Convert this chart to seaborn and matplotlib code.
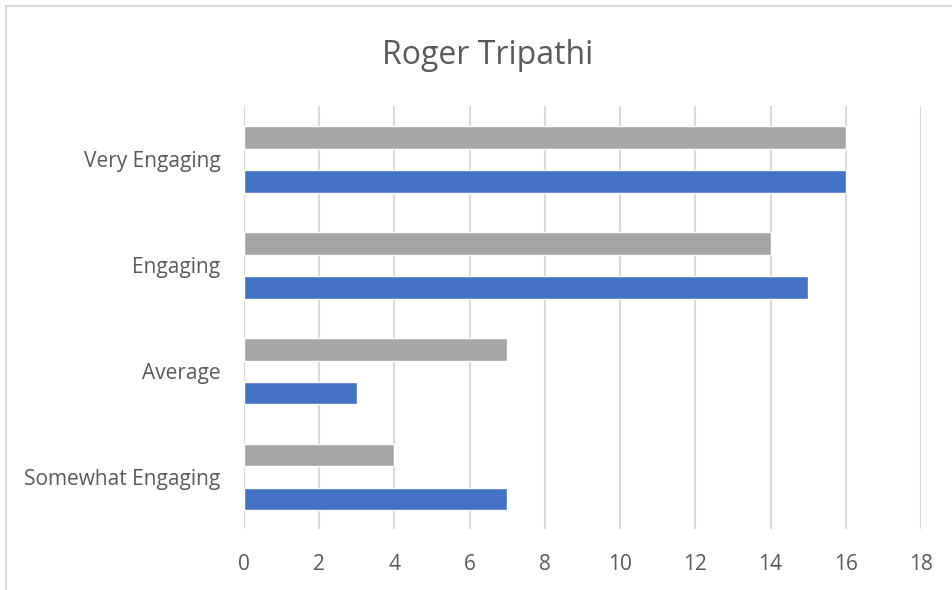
import matplotlib
matplotlib.use("Agg")
import matplotlib.pyplot as plt
import seaborn as sns
import pandas as pd
from matplotlib.patches import Rectangle

categories = ["Very Engaging", "Engaging", "Average", "Somewhat Engaging"]
series_names = ["Series 2", "Series 1"]
gray_values = [16, 14, 7, 4]
blue_values = [16, 15, 3, 7]
x_ticks = [0, 2, 4, 6, 8, 10, 12, 14, 16, 18]
title = "Roger Tripathi"

df = pd.DataFrame({
    "category": categories * 2,
    "series": [series_names[0]] * len(categories) + [series_names[1]] * len(categories),
    "value": gray_values + blue_values,
})

sns.set_theme(style="white")
plt.rcParams["font.family"] = ["Open Sans", "DejaVu Sans"]

text_color = "#595959"
fig = plt.figure(figsize=(9.53, 5.90), dpi=100)
ax = fig.add_axes([244 / 953, 1 - 529 / 590, (921 - 244) / 953, (529 - 106) / 590])

sns.barplot(data=df, y="category", x="value", hue="series", order=categories,
            hue_order=series_names, palette=["#A5A5A5", "#4472C4"], saturation=1,
            width=0.83, gap=0.484, orient="h", legend=False, ax=ax, zorder=3)

ax.set_xlim(0, 18)
ax.set_ylim(3.49, -0.503)
ax.set_xticks(x_ticks)
ax.set_xticklabels([str(t) for t in x_ticks])
ax.xaxis.grid(True, color="#D9D9D9", linewidth=1.5, zorder=0)
ax.yaxis.grid(False)
ax.set_axisbelow(True)
for s in ax.spines.values():
    s.set_visible(False)
ax.set_xlabel("")
ax.set_ylabel("")
ax.tick_params(axis="both", length=0, labelsize=15, colors=text_color)
ax.tick_params(axis="x", pad=18)
ax.tick_params(axis="y", pad=17)

fig.text(488 / 953, 1 - 55 / 590, title, ha="center", va="center",
         fontsize=23, color=text_color)

fig.patches.append(Rectangle((6 / 953, -0.1), 1.2, 1 - 6 / 590 + 0.1,
                             transform=fig.transFigure, fill=False,
                             edgecolor="#D9D9D9", linewidth=1.5))

fig.savefig("out.png", dpi=100, facecolor="white")
